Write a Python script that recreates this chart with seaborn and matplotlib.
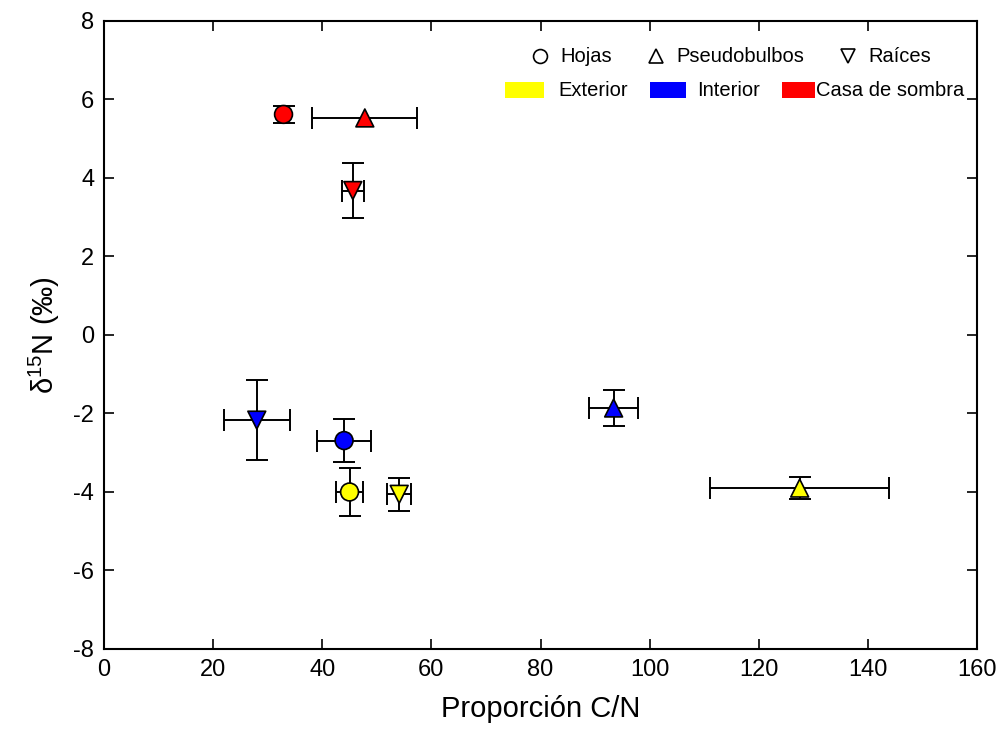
import matplotlib
matplotlib.use("Agg")
import matplotlib.pyplot as plt
from matplotlib.lines import Line2D
from matplotlib.patches import Rectangle
import seaborn as sns
import pandas as pd

# ---- data ----
sites = ["Exterior", "Exterior", "Exterior",
         "Interior", "Interior", "Interior",
         "Casa de sombra", "Casa de sombra", "Casa de sombra"]
organs = ["Hojas", "Pseudobulbos", "Raíces"] * 3
cn_ratio = [45.0, 127.5, 54.1, 44.0, 93.4, 28.0, 32.9, 47.8, 45.6]
cn_err = [2.5, 16.4, 2.2, 4.9, 4.5, 6.0, 0.0, 9.6, 2.0]
d15n = [-4.00, -3.90, -4.06, -2.69, -1.86, -2.17, 5.62, 5.53, 3.68]
d15n_err = [0.60, 0.27, 0.42, 0.55, 0.46, 1.02, 0.21, 0.0, 0.70]

site_colors = {"Exterior": "#FFFF00", "Interior": "#0000FF", "Casa de sombra": "#FF0000"}
organ_markers = {"Hojas": "o", "Pseudobulbos": "^", "Raíces": "v"}

df = pd.DataFrame({"site": sites, "organ": organs, "cn": cn_ratio,
                   "cn_err": cn_err, "d15n": d15n, "d15n_err": d15n_err})

sns.set_theme(style="ticks")
plt.rcParams["font.family"] = ["Liberation Sans", "DejaVu Sans"]
plt.rcParams["mathtext.default"] = "regular"
plt.rcParams["axes.unicode_minus"] = False
plt.rcParams["text.color"] = "black"
plt.rcParams["axes.labelcolor"] = "black"

fig = plt.figure(figsize=(10.03, 7.44), dpi=100)
ax = fig.add_axes([0.1037, 0.1277, 0.8704, 0.8441])

# error bars
for _, r in df.iterrows():
    ax.errorbar(r["cn"], r["d15n"],
                xerr=r["cn_err"] if r["cn_err"] > 0 else None,
                yerr=r["d15n_err"] if r["d15n_err"] > 0 else None,
                fmt="none", ecolor="black", elinewidth=1.4, capsize=8,
                capthick=1.4, zorder=2)

# markers
sns.scatterplot(data=df, x="cn", y="d15n", hue="site", style="organ",
                palette=site_colors, markers=organ_markers, s=165,
                edgecolor="black", linewidth=1.2, legend=False, zorder=3, ax=ax)

ax.set_xlim(0, 160)
ax.set_ylim(-8, 8)
ax.set_xticks(range(0, 161, 20))
ax.set_yticks(range(-8, 9, 2))
ax.tick_params(direction="in", length=7, width=1.2, top=True, right=True,
               labelsize=17, pad=7, colors="black")
for s in ax.spines.values():
    s.set_linewidth(1.5)
    s.set_color("black")

ax.set_xlabel("Proporción C/N", fontsize=21, labelpad=10)
ax.set_ylabel(r"δ$^{15}$N (‰)", fontsize=21, labelpad=8)

# ---- legend (manual, axes coordinates) ----
tr = ax.transAxes
row1, row2 = 0.944, 0.890
for xm, xl, (name, mk) in zip([0.4994, 0.632, 0.852], [0.523, 0.656, 0.875],
                              organ_markers.items()):
    ax.add_line(Line2D([xm], [row1], marker=mk, markersize=10, markerfacecolor="white",
                       markeredgecolor="black", markeredgewidth=1.2,
                       linestyle="none", transform=tr, clip_on=False))
    ax.text(xl, row1, name, transform=tr, fontsize=14.5, va="center", ha="left")

for (x0, x1), xl, (name, col) in zip([(0.459, 0.504), (0.625, 0.667), (0.777, 0.814)],
                                     [0.520, 0.679, 0.816], site_colors.items()):
    ax.add_patch(Rectangle((x0, row2 - 0.0125), x1 - x0, 0.025, transform=tr,
                           facecolor=col, edgecolor="none", clip_on=False))
    ax.text(xl, row2, name, transform=tr, fontsize=14.5, va="center", ha="left")

fig.savefig("out.png", dpi=100, facecolor="white")
